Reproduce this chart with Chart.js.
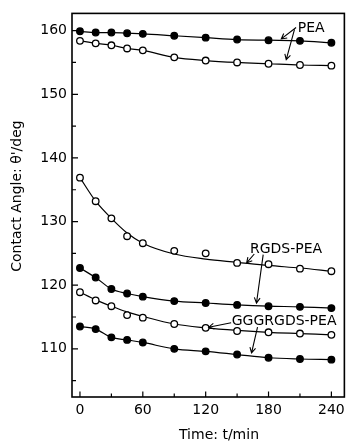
<!DOCTYPE html>
<html>
<head>
<meta charset="utf-8">
<script src="https://cdn.jsdelivr.net/npm/chart.js@4.4.1/dist/chart.umd.min.js"></script>
<style>
html, body { margin: 0; padding: 0; background: #fff; }
#chart { display: block; }
</style>
</head>
<body>
<canvas id="chart" width="350" height="441"></canvas>
<script>
// sampling times (min)
const times = [0, 15, 30, 45, 60, 90, 120, 150, 180, 210, 240];

// contact angle (deg)
const peaFilled = [159.9, 159.7, 159.7, 159.6, 159.5, 159.2, 158.9, 158.6, 158.5, 158.4, 158.1];
const peaOpen = [158.4, 158.0, 157.7, 157.2, 156.9, 155.8, 155.3, 155.0, 154.8, 154.6, 154.5];
const rgdsOpen = [136.9, 133.2, 130.5, 127.7, 126.6, 125.4, 125.0, 123.5, 123.3, 122.6, 122.2];
const rgdsOpenFit = [136.9, 133.2, 130.5, 128.2, 126.6, 124.9, 124.1, 123.6, 123.1, 122.7, 122.2];
const rgdsFilled = [122.7, 121.2, 119.4, 118.7, 118.2, 117.5, 117.2, 116.9, 116.7, 116.6, 116.4];
const gggOpen = [118.9, 117.6, 116.7, 115.3, 114.9, 113.9, 113.3, 112.8, 112.6, 112.4, 112.2];
const gggOpenFit = [118.9, 117.7, 116.7, 115.8, 115.1, 113.9, 113.3, 112.9, 112.6, 112.4, 112.2];
const gggFilled = [113.5, 113.1, 111.8, 111.4, 111.0, 110.0, 109.6, 109.1, 108.6, 108.4, 108.3];

// ticks
const xTickLabels = [0, 60, 120, 180, 240];
const xTickMarks = [0, 30, 60, 90, 120, 150, 180, 210, 240];
const yTickLabels = [110, 120, 130, 140, 150, 160];
const yTickMarks = [105, 110, 115, 120, 125, 130, 135, 140, 145, 150, 155, 160];

// labels and arrows, in data units (t, angle)
const notes = [
  { text: 'PEA', t: 207.9, v: 160.3 },
  { text: 'RGDS-PEA', t: 162.3, v: 125.7 },
  { text: 'GGGRGDS-PEA', t: 144.9, v: 114.3 }
];
const arrows = [
  [206.3, 160.5, 192.2, 158.7],
  [204.8, 160.2, 196.9, 155.45],
  [166.4, 124.9, 159.1, 123.5],
  [174.9, 124.8, 168.5, 117.2],
  [144.3, 114.1, 122.9, 113.4],
  [169.5, 113.4, 163.8, 109.35]
];

const pts = vals => vals.map((v, i) => ({ x: times[i], y: v }));

function series(vals, filled, line) {
  return {
    data: pts(vals),
    showLine: line,
    borderColor: '#000',
    borderWidth: 1.2,
    cubicInterpolationMode: 'monotone',
    pointRadius: 3.3,
    pointBorderWidth: 1.3,
    pointBorderColor: '#000',
    pointBackgroundColor: filled ? '#000' : '#fff',
    order: 0
  };
}

function fit(vals) {
  return {
    data: pts(vals),
    showLine: true,
    borderColor: '#000',
    borderWidth: 1.2,
    cubicInterpolationMode: 'monotone',
    pointRadius: 0,
    order: 1
  };
}

const frame = {
  id: 'frame',
  afterDraw(chart) {
    const { ctx, chartArea: a, scales: { x, y } } = chart;
    ctx.save();
    ctx.strokeStyle = '#000';
    ctx.fillStyle = '#000';
    ctx.lineWidth = 1.6;
    ctx.strokeRect(a.left, a.top, a.right - a.left, a.bottom - a.top);

    // inward tick marks
    ctx.lineWidth = 1.2;
    ctx.beginPath();
    yTickMarks.forEach(v => {
      const py = y.getPixelForValue(v);
      const len = yTickLabels.includes(v) ? 6 : 4;
      ctx.moveTo(a.left, py);
      ctx.lineTo(a.left + len, py);
    });
    xTickMarks.forEach(t => {
      const px = x.getPixelForValue(t);
      const len = xTickLabels.includes(t) ? 5.5 : 3.5;
      ctx.moveTo(px, a.bottom);
      ctx.lineTo(px, a.bottom - len);
    });
    ctx.stroke();

    // series labels
    ctx.font = '14px "DejaVu Sans"';
    ctx.textBaseline = 'middle';
    ctx.textAlign = 'left';
    notes.forEach(n => ctx.fillText(n.text, x.getPixelForValue(n.t), y.getPixelForValue(n.v)));

    // arrows
    ctx.lineWidth = 1.1;
    arrows.forEach(([t0, v0, t1, v1]) => {
      const x0 = x.getPixelForValue(t0), y0 = y.getPixelForValue(v0);
      const x1 = x.getPixelForValue(t1), y1 = y.getPixelForValue(v1);
      const ang = Math.atan2(y1 - y0, x1 - x0);
      const h = 6;
      ctx.beginPath();
      ctx.moveTo(x0, y0);
      ctx.lineTo(x1, y1);
      ctx.moveTo(x1 - h * Math.cos(ang - 0.5), y1 - h * Math.sin(ang - 0.5));
      ctx.lineTo(x1, y1);
      ctx.lineTo(x1 - h * Math.cos(ang + 0.5), y1 - h * Math.sin(ang + 0.5));
      ctx.stroke();
    });

    // axis titles
    ctx.textAlign = 'center';
    ctx.fillText('Time: t/min', 219, 435);
    ctx.translate(17.5, 196);
    ctx.rotate(-Math.PI / 2);
    ctx.fillText("Contact Angle: \u03b8'/deg", 0, 0);
    ctx.restore();
  }
};

Chart.defaults.color = '#000';
Chart.defaults.font.family = '"DejaVu Sans"';
Chart.defaults.font.size = 14;

new Chart(document.getElementById('chart'), {
  type: 'line',
  data: {
    datasets: [
      series(peaFilled, true, true),
      series(peaOpen, false, true),
      series(rgdsOpen, false, false),
      fit(rgdsOpenFit),
      series(rgdsFilled, true, true),
      series(gggOpen, false, false),
      fit(gggOpenFit),
      series(gggFilled, true, true)
    ]
  },
  options: {
    responsive: false,
    animation: false,
    layout: { padding: { top: 13, right: 3, left: 0, bottom: 0 } },
    plugins: { legend: { display: false }, tooltip: { enabled: false } },
    scales: {
      x: {
        type: 'linear',
        min: -7.6,
        max: 252.4,
        grid: { display: false, drawTicks: false },
        border: { display: false },
        ticks: { padding: 5 },
        afterBuildTicks: s => { s.ticks = xTickLabels.map(v => ({ value: v })); },
        afterFit: s => { s.height = 44; }
      },
      y: {
        min: 102.43,
        max: 162.71,
        grid: { display: false, drawTicks: false },
        border: { display: false },
        ticks: { padding: 5 },
        afterBuildTicks: s => { s.ticks = yTickLabels.map(v => ({ value: v })); },
        afterFit: s => { s.width = 72; }
      }
    }
  },
  plugins: [frame]
});
</script>
</body>
</html>
